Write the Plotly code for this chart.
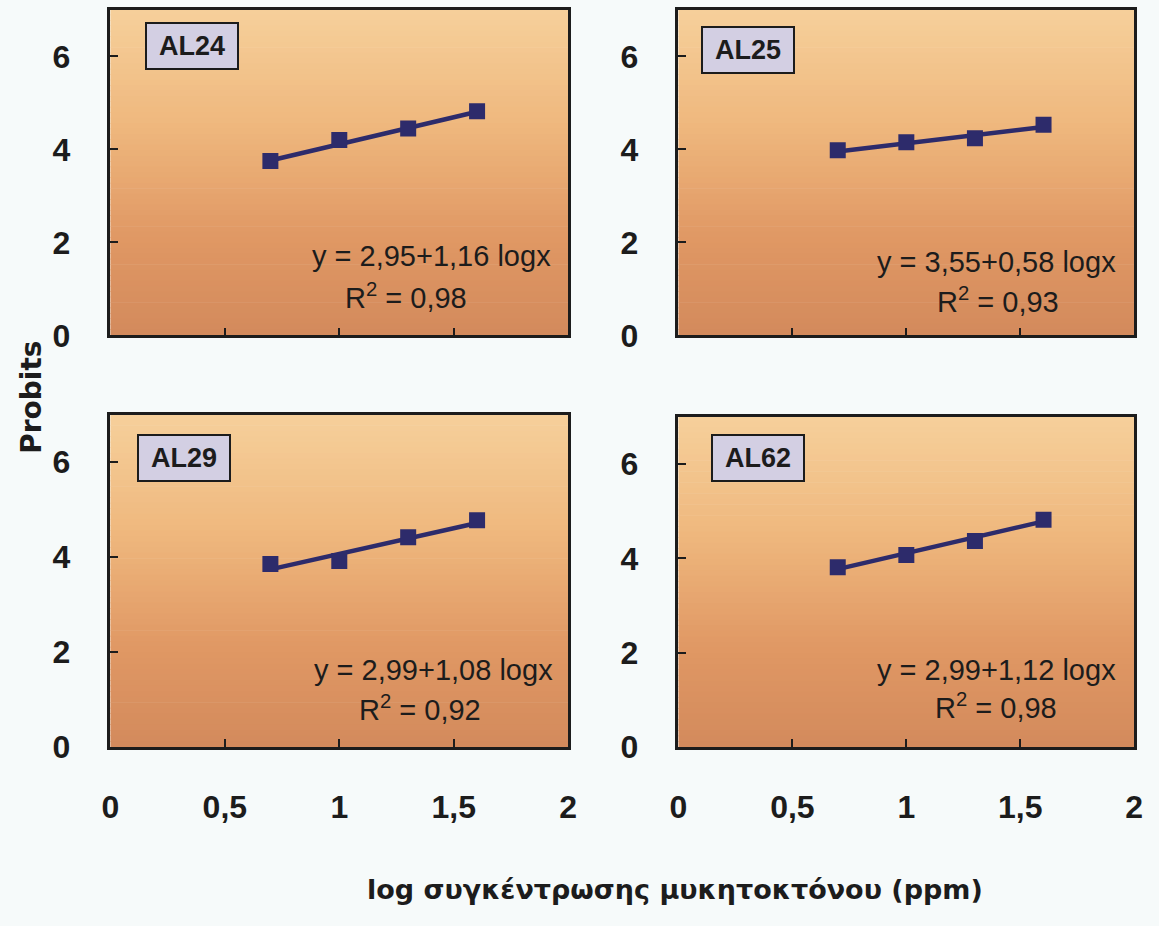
import plotly.graph_objects as go

# log10 of the fungicide concentrations (5, 10, 20, 40 ppm)
log_conc = [0.699, 1.0, 1.301, 1.602]

isolates = ["AL24", "AL25", "AL29", "AL62"]
probits_al24 = [3.75, 4.20, 4.45, 4.82]
probits_al25 = [3.98, 4.15, 4.24, 4.53]
probits_al29 = [3.86, 3.92, 4.42, 4.78]
probits_al62 = [3.81, 4.07, 4.37, 4.82]

# regression coefficients: y = a + b*logx, and R^2
intercepts = [2.95, 3.55, 2.99, 2.99]
slopes = [1.16, 0.58, 1.08, 1.12]
r_squared = [0.98, 0.93, 0.92, 0.98]

x_ticks = [0, 0.5, 1, 1.5, 2]
x_tick_text = ["0", "0,5", "1", "1,5", "2"]
y_ticks = [0, 2, 4, 6]
y_tick_text = ["0", "2", "4", "6"]

probits = [probits_al24, probits_al25, probits_al29, probits_al62]

W, H = 1159, 926
# panel rectangles in pixels: left, right, top, bottom
panels_px = [(103, 568, 10, 342), (680, 1143, 10, 342),
             (103, 568, 423, 762), (680, 1143, 425, 762)]

# position of the isolate label box (left, top) and equation text (domain fractions)
label_pos = [(0.075, 0.964), (0.050, 0.949), (0.058, 0.941), (0.071, 0.947)]
eq_pos = [(0.701, 0.244), (0.698, 0.226), (0.705, 0.233), (0.698, 0.234)]
r2_pos = [(0.645, 0.120), (0.700, 0.108), (0.677, 0.118), (0.697, 0.125)]

line_col = "#2d2b6b"
ink = "#1c1c1c"
tick_font = dict(family="Liberation Sans", size=32, color=ink)
text_font = dict(family="Liberation Sans, Arial", size=29, color=ink)

fig = go.Figure()


def lerp_color(t):
    stops = [(0.0, (246, 208, 155)), (0.35, (239, 184, 126)),
             (0.7, (224, 152, 100)), (1.0, (211, 138, 92))]
    for (t0, c0), (t1, c1) in zip(stops[:-1], stops[1:]):
        if t <= t1:
            f = (t - t0) / (t1 - t0)
            return "rgb(%d,%d,%d)" % tuple(round(a + (b - a) * f) for a, b in zip(c0, c1))
    return "rgb(%d,%d,%d)" % stops[-1][1]


def bold(labels):
    return ["<b>%s</b>" % s for s in labels]


shapes = []
annotations = []
n_strips = 60

for i, (l, r, t, b) in enumerate(panels_px):
    k = i + 1
    xa = "xaxis" if k == 1 else "xaxis%d" % k
    ya = "yaxis" if k == 1 else "yaxis%d" % k
    xr = "x" if k == 1 else "x%d" % k
    yr = "y" if k == 1 else "y%d" % k

    fig.layout[xa] = go.layout.XAxis(
        domain=[l / W, r / W], range=[0, 2], anchor=yr,
        tickmode="array", tickvals=x_ticks, ticktext=bold(x_tick_text),
        showticklabels=(i >= 2), ticks="inside", ticklen=8,
        tickwidth=1.5, tickcolor=ink, ticklabelstandoff=30,
        showline=True, linecolor=ink, linewidth=2.5, mirror=True,
        showgrid=False, zeroline=False, tickfont=tick_font, fixedrange=True)
    fig.layout[ya] = go.layout.YAxis(
        domain=[1 - b / H, 1 - t / H], range=[0, 7], anchor=xr,
        tickmode="array", tickvals=y_ticks, ticktext=bold(y_tick_text),
        ticks="inside", ticklen=8,
        tickwidth=1.5, tickcolor=ink, ticklabelstandoff=31,
        showline=True, linecolor=ink, linewidth=2.5, mirror=True,
        showgrid=False, zeroline=False, tickfont=tick_font, fixedrange=True)

    # vertical gradient background of the plotting area
    for s in range(n_strips):
        y0 = 1 - s / n_strips
        y1 = 1 - (s + 1) / n_strips
        shapes.append(dict(type="rect", xref=xr + " domain", yref=yr + " domain",
                           x0=0, x1=1, y0=y1, y1=y0 + 0.002, layer="below",
                           line=dict(width=0),
                           fillcolor=lerp_color((s + 0.5) / n_strips)))

    # fitted regression line
    a, bb = intercepts[i], slopes[i]
    fit_x = [log_conc[0], log_conc[-1]]
    fit_y = [a + bb * v for v in fit_x]
    fig.add_trace(go.Scatter(x=fit_x, y=fit_y, mode="lines", xaxis=xr, yaxis=yr,
                             line=dict(color=line_col, width=4.5),
                             showlegend=False, hoverinfo="skip"))
    # observed probits
    fig.add_trace(go.Scatter(x=log_conc, y=probits[i], mode="markers",
                             xaxis=xr, yaxis=yr,
                             marker=dict(symbol="square", size=16, color=line_col,
                                         line=dict(width=0)),
                             name=isolates[i], showlegend=False))

    lx, ly = label_pos[i]
    annotations.append(dict(xref=xr + " domain", yref=yr + " domain", x=lx, y=ly,
                            xanchor="left", yanchor="top", text="<b>%s</b>" % isolates[i],
                            showarrow=False, bgcolor="#d3cfe3", bordercolor=ink,
                            borderwidth=2, borderpad=0, width=90, height=44,
                            font=dict(family="Liberation Sans, Arial", size=27, color=ink)))

    ex, ey = eq_pos[i]
    eq_text = "y = %s+%s logx" % (("%.2f" % a).replace(".", ","),
                                  ("%.2f" % bb).replace(".", ","))
    annotations.append(dict(xref=xr + " domain", yref=yr + " domain", x=ex, y=ey,
                            xanchor="center", yanchor="middle", text=eq_text,
                            showarrow=False, font=text_font))
    rx, ry = r2_pos[i]
    r2_text = "R<sup>2</sup> = %s" % ("%.2f" % r_squared[i]).replace(".", ",")
    annotations.append(dict(xref=xr + " domain", yref=yr + " domain", x=rx, y=ry,
                            xanchor="center", yanchor="middle", text=r2_text,
                            showarrow=False, font=text_font))

# shared axis titles
annotations.append(dict(xref="paper", yref="paper", x=22 / W, y=1 - 405 / H,
                        xanchor="center", yanchor="middle", text="<b>Probits</b>",
                        textangle=-90, showarrow=False,
                        font=dict(family="DejaVu Sans, Verdana", size=28, color=ink)))
annotations.append(dict(xref="paper", yref="paper", x=676 / W, y=1 - 907 / H,
                        xanchor="center", yanchor="middle",
                        text="<b>log συγκέντρωσης μυκητοκτόνου (ppm)</b>",
                        showarrow=False,
                        font=dict(family="DejaVu Sans, Verdana", size=27, color=ink)))

fig.update_layout(width=W, height=H, margin=dict(l=0, r=0, t=0, b=0),
                  paper_bgcolor="#f6fafa", plot_bgcolor="rgba(0,0,0,0)",
                  shapes=shapes, annotations=annotations, showlegend=False)

fig.write_html("out.html")
